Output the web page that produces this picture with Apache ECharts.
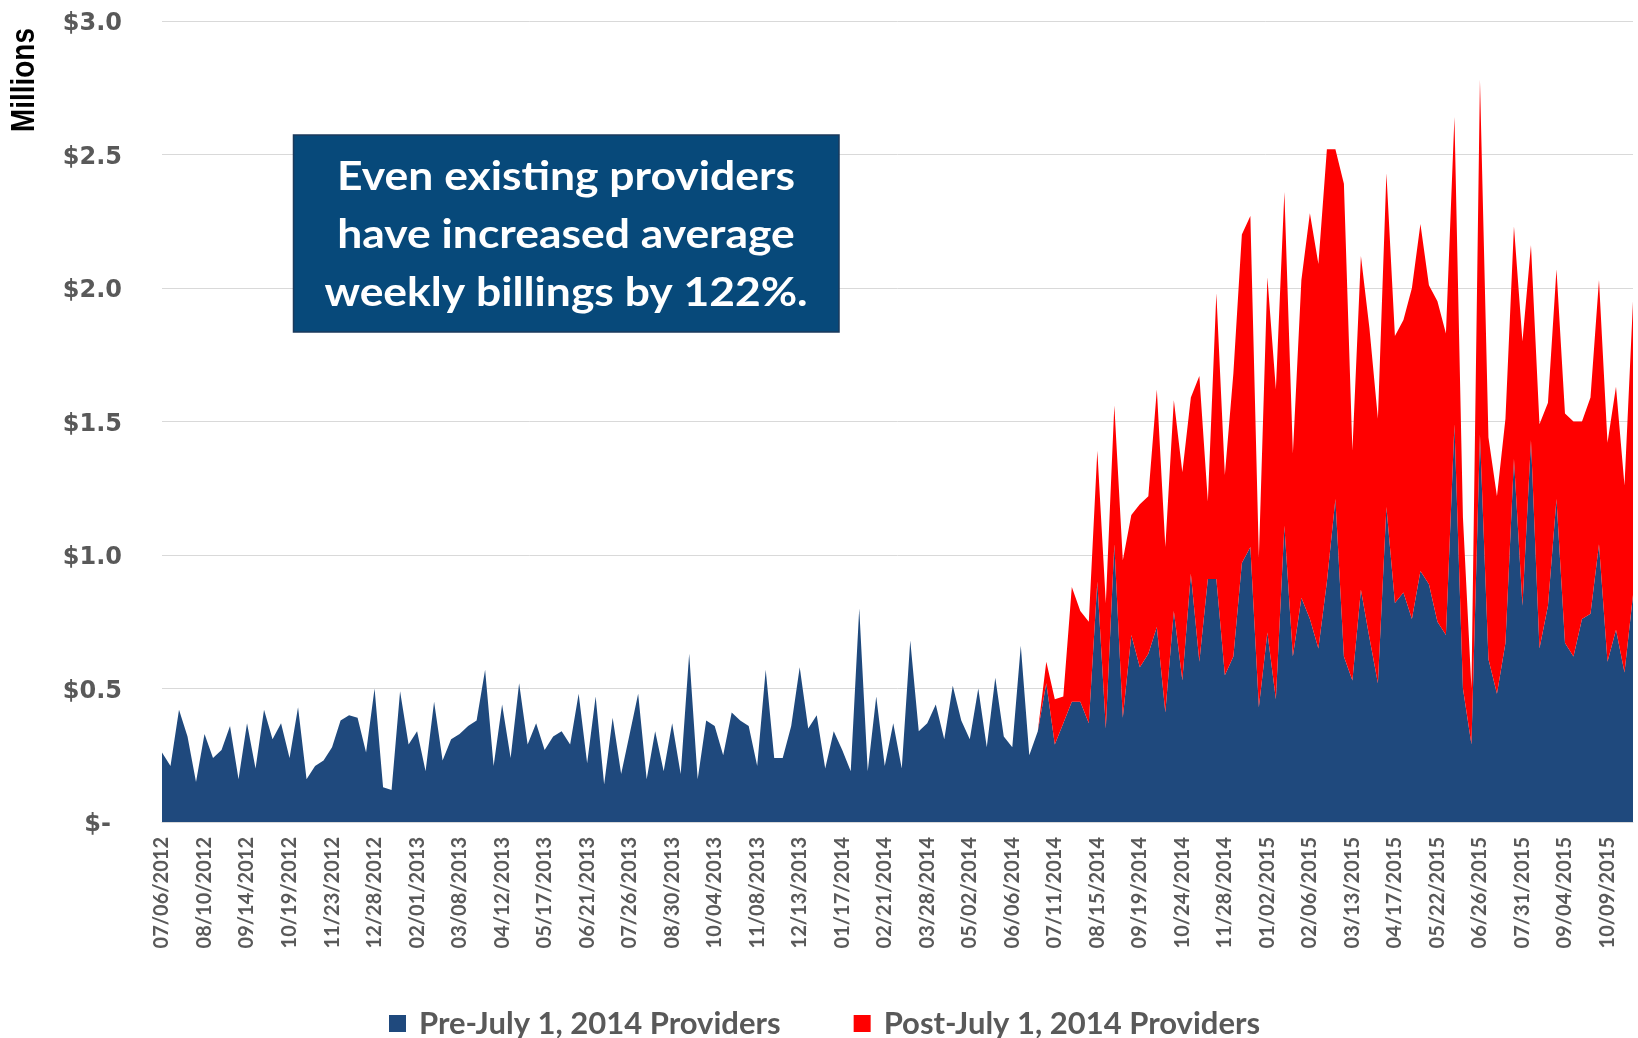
<!DOCTYPE html>
<html>
<head>
<meta charset="utf-8">
<script src="https://cdn.jsdelivr.net/npm/echarts@6.0.0/dist/echarts.min.js"></script>
<style>
  html, body { margin: 0; padding: 0; background: #fff; }
  #chart { width: 1638px; height: 1038px; }
</style>
</head>
<body>
<div id="chart"></div>
<script>
// weekly billings, $ millions, week ending 07/06/2012 onwards
const pre = [
  0.26, 0.21, 0.42, 0.32, 0.15, 0.33, 0.24, 0.27, 0.36, 0.16, 0.37, 0.20, 0.42, 0.31, 0.37, 0.24,
  0.43, 0.16, 0.21, 0.23, 0.28, 0.38, 0.40, 0.39, 0.26, 0.50, 0.13, 0.12, 0.49, 0.29, 0.34, 0.19,
  0.45, 0.23, 0.31, 0.33, 0.36, 0.38, 0.57, 0.21, 0.44, 0.24, 0.52, 0.29, 0.37, 0.27, 0.32, 0.34,
  0.29, 0.48, 0.22, 0.47, 0.14, 0.39, 0.18, 0.33, 0.48, 0.16, 0.34, 0.19, 0.37, 0.18, 0.63, 0.16,
  0.38, 0.36, 0.25, 0.41, 0.38, 0.36, 0.21, 0.57, 0.24, 0.24, 0.36, 0.58, 0.35, 0.40, 0.20, 0.34,
  0.27, 0.19, 0.80, 0.19, 0.47, 0.21, 0.37, 0.20, 0.68, 0.34, 0.37, 0.44, 0.31, 0.51, 0.38, 0.31,
  0.50, 0.28, 0.54, 0.32, 0.28, 0.66, 0.25, 0.34, 0.52, 0.29, 0.37, 0.45, 0.45, 0.37, 0.90, 0.35,
  1.04, 0.39, 0.70, 0.58, 0.63, 0.73, 0.41, 0.79, 0.53, 0.93, 0.60, 0.91, 0.91, 0.55, 0.62, 0.97,
  1.03, 0.43, 0.71, 0.46, 1.11, 0.62, 0.84, 0.76, 0.65, 0.90, 1.21, 0.62, 0.53, 0.87, 0.69, 0.52,
  1.18, 0.82, 0.86, 0.76, 0.94, 0.89, 0.75, 0.70, 1.49, 0.50, 0.29, 1.45, 0.61, 0.48, 0.67, 1.36,
  0.81, 1.43, 0.65, 0.81, 1.21, 0.67, 0.62, 0.76, 0.78, 1.04, 0.60, 0.72, 0.56, 0.85
];

const post = [
  0, 0, 0, 0, 0, 0, 0, 0, 0, 0, 0, 0, 0, 0, 0, 0, 0, 0, 0, 0, 0, 0, 0, 0, 0, 0,
  0, 0, 0, 0, 0, 0, 0, 0, 0, 0, 0, 0, 0, 0, 0, 0, 0, 0, 0, 0, 0, 0, 0, 0, 0, 0,
  0, 0, 0, 0, 0, 0, 0, 0, 0, 0, 0, 0, 0, 0, 0, 0, 0, 0, 0, 0, 0, 0, 0, 0, 0, 0,
  0, 0, 0, 0, 0, 0, 0, 0, 0, 0, 0, 0, 0, 0, 0, 0, 0, 0, 0, 0, 0, 0, 0, 0, 0, 0,
  0.08, 0.17, 0.10, 0.43, 0.34, 0.38, 0.49, 0.47, 0.52, 0.59, 0.45, 0.61, 0.59, 0.89, 0.62, 0.79,
  0.78, 0.66, 1.07, 0.29, 1.07, 0.75, 1.06, 1.23, 1.24, 0.56, 1.33, 1.16, 1.25, 0.76, 1.19, 1.52,
  1.44, 1.62, 1.31, 1.77, 0.86, 1.25, 1.16, 0.99, 1.25, 1.00, 1.02, 1.24, 1.30, 1.12, 1.20, 1.13,
  1.15, 0.64, 0.21, 1.33, 0.83, 0.74, 0.84, 0.87, 0.99, 0.73, 0.84, 0.76, 0.86, 0.86, 0.88, 0.74,
  0.81, 0.99, 0.82, 0.91, 0.70, 1.10
];

const seriesNames = ['Pre-July 1, 2014 Providers', 'Post-July 1, 2014 Providers'];
const yTicks = [0, 0.5, 1.0, 1.5, 2.0, 2.5, 3.0];

// week-ending dates, one per point
const weeks = [];
const startMs = Date.UTC(2012, 6, 6);
for (let i = 0; i < pre.length; i++) {
  const d = new Date(startMs + i * 7 * 86400000);
  const mm = String(d.getUTCMonth() + 1).padStart(2, '0');
  const dd = String(d.getUTCDate()).padStart(2, '0');
  weeks.push(mm + '/' + dd + '/' + d.getUTCFullYear());
}

const NAVY = '#1F497D';
const RED = '#FF0000';
const GREY = '#595959';

const chart = echarts.init(document.getElementById('chart'));

chart.setOption({
  animation: false,
  backgroundColor: '#fff',
  grid: { left: 162, right: 5, top: 21, bottom: 216 },
  xAxis: {
    type: 'category',
    data: weeks,
    boundaryGap: false,
    axisLine: { show: true, lineStyle: { color: '#D9D9D9', width: 1 } },
    axisTick: { show: false },
    axisLabel: {
      interval: 4,
      rotate: 90,
      margin: 15,
      color: GREY,
      fontFamily: 'Lato',
      fontWeight: 'bold',
      fontSize: 20
    },
    splitLine: { show: false }
  },
  yAxis: {
    type: 'value',
    min: yTicks[0],
    max: yTicks[yTicks.length - 1],
    interval: 0.5,
    axisLine: { show: false },
    axisTick: { show: false },
    splitLine: { lineStyle: { color: '#D9D9D9', width: 1 } },
    axisLabel: {
      margin: 40,
      padding: [6, 0, 0, 0],
      color: GREY,
      fontFamily: 'DejaVu Sans',
      fontWeight: 'bold',
      fontSize: 24,
      formatter: v => v === 0 ? '{z|$-}' : '$' + v.toFixed(1),
      rich: {
        z: { color: GREY, fontFamily: 'DejaVu Sans', fontWeight: 'bold', fontSize: 24, padding: [0, 11, 0, 0] }
      }
    }
  },
  legend: {
    data: seriesNames,
    left: 384,
    top: 1003,
    icon: 'rect',
    itemWidth: 17,
    itemHeight: 17,
    itemGap: 73,
    textStyle: {
      color: GREY,
      fontFamily: 'Lato',
      fontWeight: 'bold',
      fontSize: 31,
      padding: [0, 0, 0, 8]
    }
  },
  series: [
    {
      name: seriesNames[0],
      type: 'line',
      stack: 'total',
      data: pre,
      showSymbol: false,
      lineStyle: { width: 0 },
      itemStyle: { color: NAVY },
      areaStyle: { color: NAVY, opacity: 1 }
    },
    {
      name: seriesNames[1],
      type: 'line',
      stack: 'total',
      data: post,
      showSymbol: false,
      lineStyle: { width: 0 },
      itemStyle: { color: RED },
      areaStyle: { color: RED, opacity: 1 }
    }
  ],
  graphic: [
    {
      type: 'text',
      x: 25,
      y: 80,
      rotation: Math.PI / 2,
      scaleX: 0.82,
      style: {
        text: 'Millions',
        fill: '#000',
        font: 'bold 34px "Liberation Sans", Arial, sans-serif',
        align: 'center',
        verticalAlign: 'middle'
      }
    },
    {
      type: 'rect',
      shape: { x: 293.5, y: 135, width: 545.5, height: 197 },
      style: { fill: '#07497A', stroke: '#1B3A5C', lineWidth: 1.5 },
      z: 100
    },
    {
      type: 'text',
      x: 566,
      y: 235,
      z: 101,
      scaleX: 1.11,
      style: {
        text: 'Even existing providers\nhave increased average\nweekly billings by 122%.',
        fill: '#fff',
        font: 'bold 40px Lato, sans-serif',
        lineHeight: 58,
        align: 'center',
        verticalAlign: 'middle'
      }
    }
  ]
});
</script>
</body>
</html>
